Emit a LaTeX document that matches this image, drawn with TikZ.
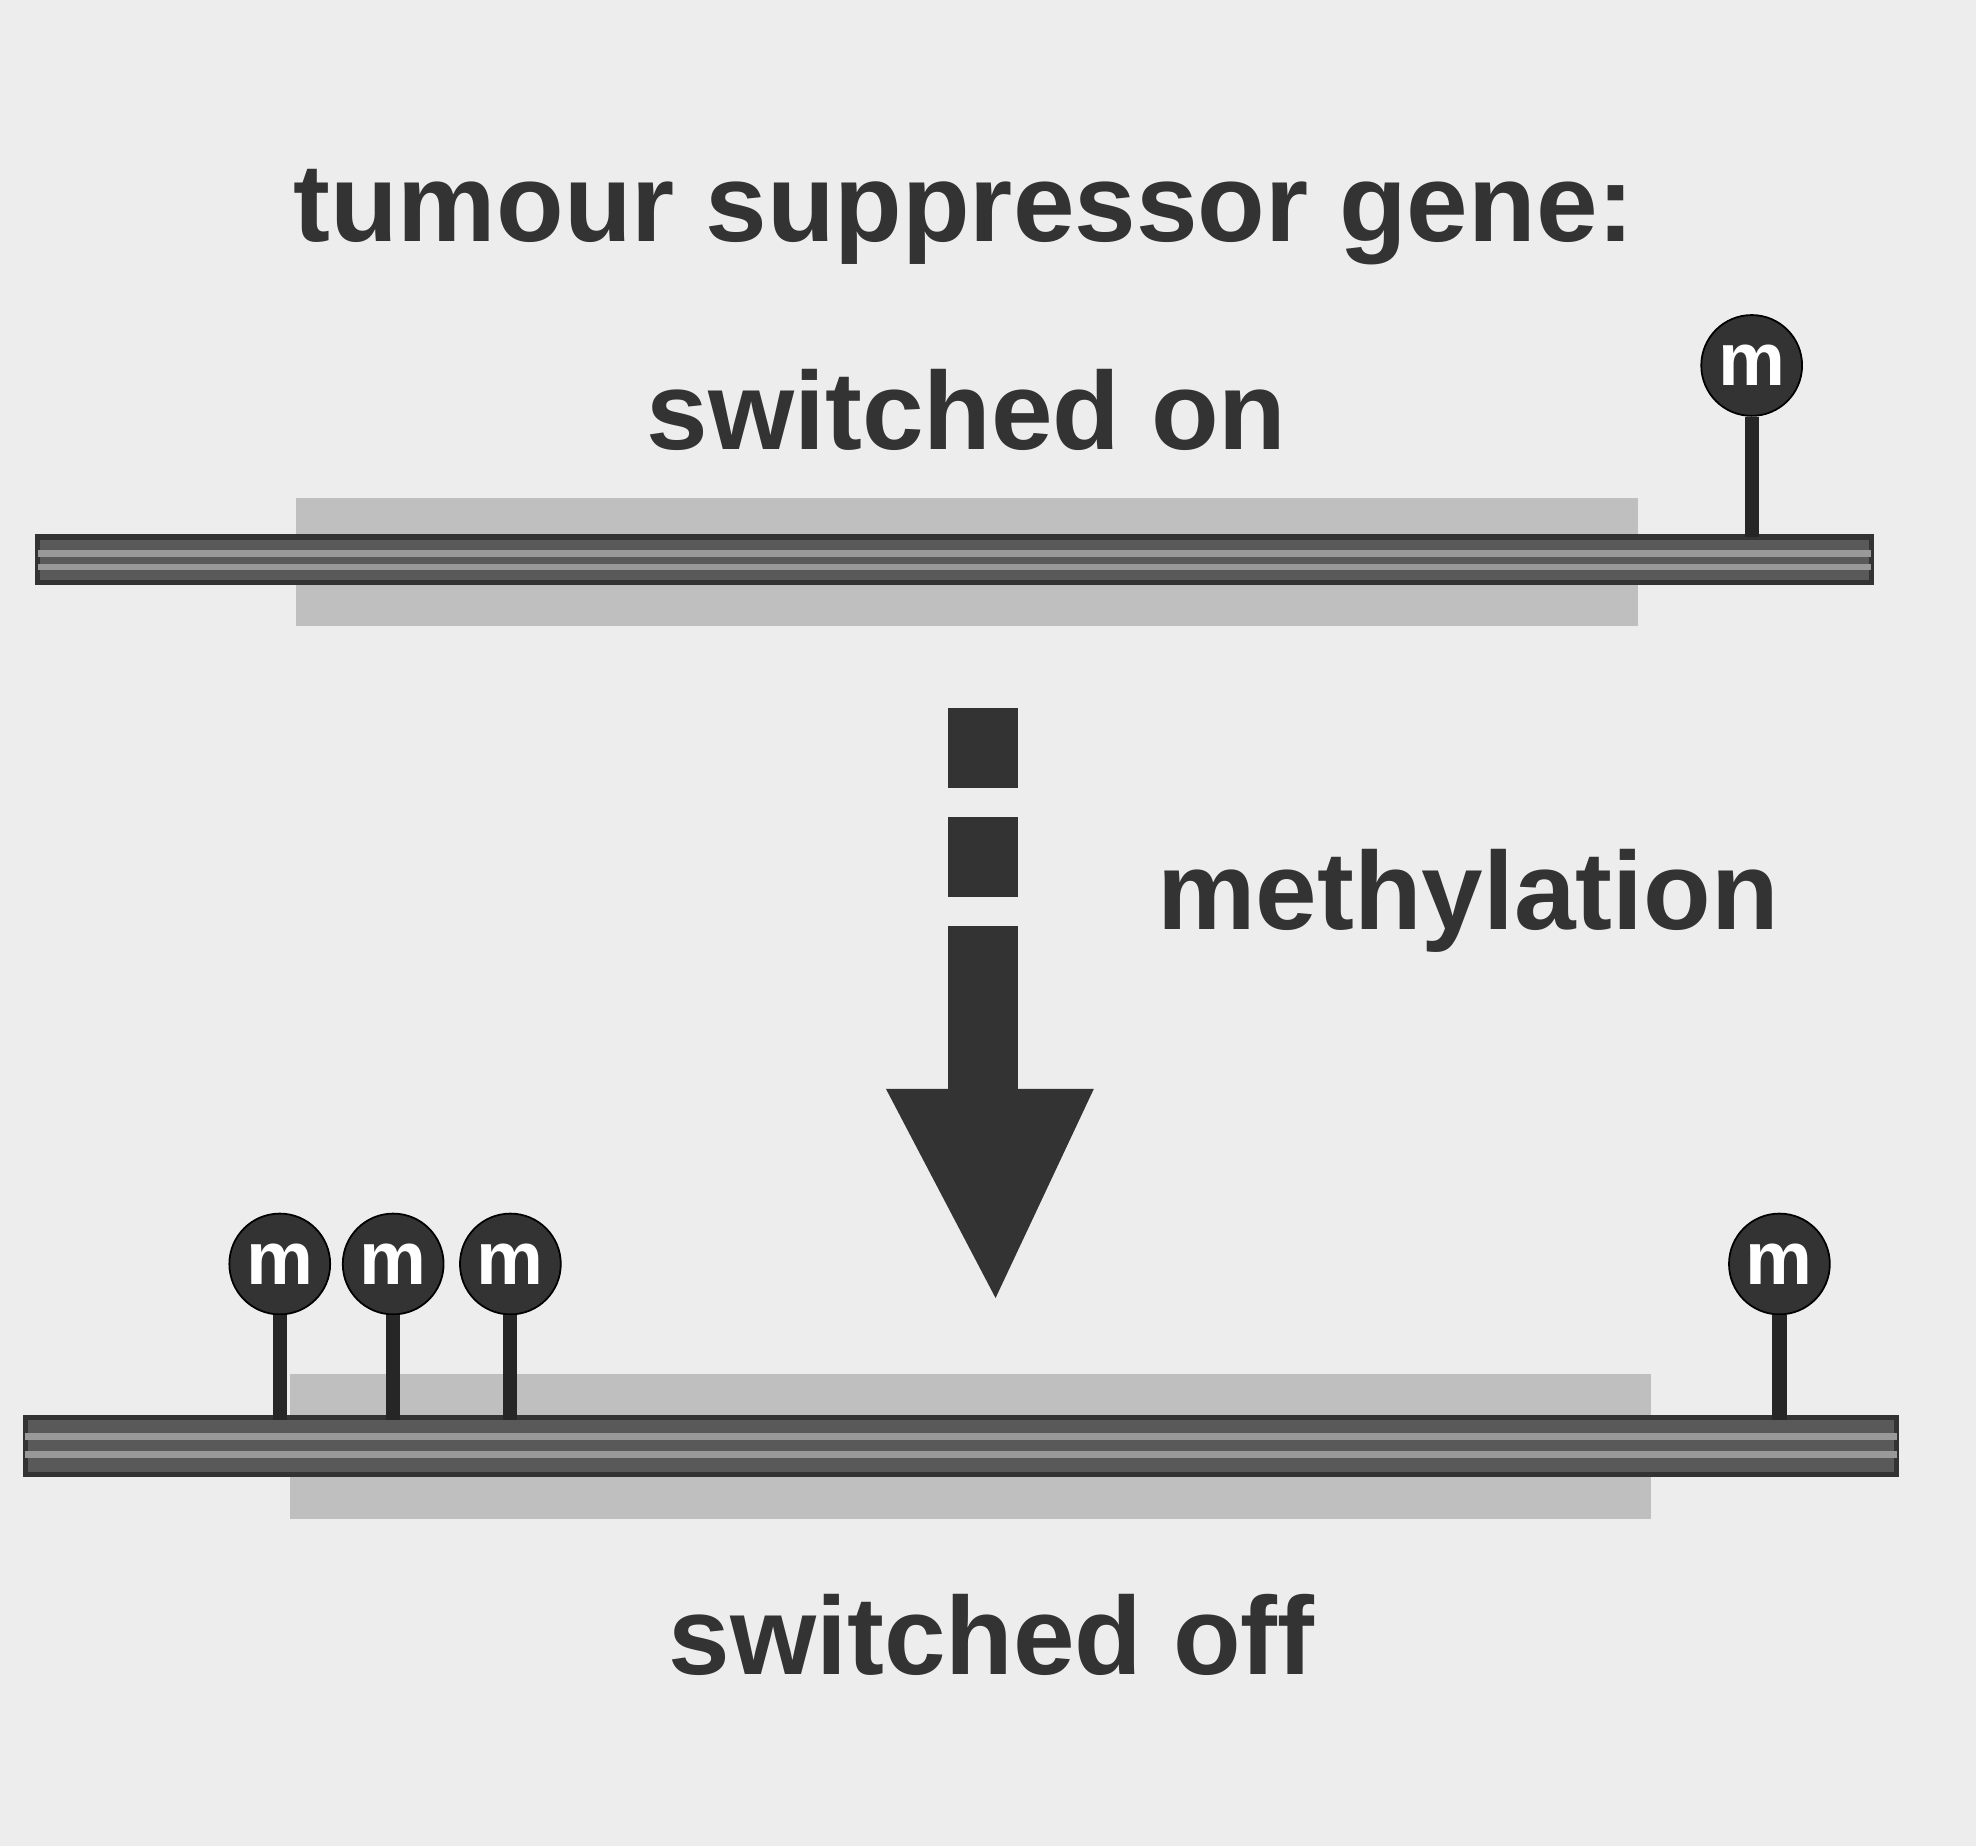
\documentclass[tikz,border=0pt]{standalone}
\usepackage{fontspec}
\setmainfont{Liberation Sans}
\begin{document}
\begin{tikzpicture}[x=0.1mm,y=-0.1mm,
  lbl/.style={font=\fontsize{25}{30}\selectfont\bfseries, text=black!80},
  shade/.style={fill=black!25, draw=none},
  bar/.style={fill=black!65, draw=black!80, line width=1.2pt},
  stem/.style={line width=3.2pt, black!85},
  meth/.style={circle, fill=black!80, draw=black, minimum size=8mm, inner sep=0pt, text=white, font=\fontsize{17}{17}\selectfont\bfseries},
  blk/.style={fill=black!80, draw=none}]
\fill[black!7] (0,0) rectangle (1568,1465);
\useasboundingbox (0,0) rectangle (1568,1465);
\node[lbl] (title) at (765,172) {tumour suppressor gene:};
\node[lbl] (on) at (767,325) {switched on};
% top DNA
\fill[shade] (235,395) rectangle (1300,497);
\fill[bar] (30,426) rectangle (1485,462);
\draw[black!40, line width=1.5pt] (30,439) -- (1485,439);
\draw[black!40, line width=1.5pt] (30,450) -- (1485,450);
\node[meth] (m0) at (1390,290) {m};
\coordinate (m0b) at (1390,426);
\draw[stem] (m0.south) -- (m0b);
% arrow
\fill[blk] (752,562) rectangle (808,625);
\fill[blk] (752,648) rectangle (808,712);
\fill[blk] (752,735) rectangle (808,866);
\fill[blk] (703,864) -- (868,864) -- (790,1030) -- cycle;
\node[lbl] (meth) at (1165,715) {methylation};
% bottom DNA
\fill[shade] (230,1090) rectangle (1310,1205);
\fill[bar] (20,1125) rectangle (1505,1170);
\draw[black!40, line width=1.5pt] (20,1140) -- (1505,1140);
\draw[black!40, line width=1.5pt] (20,1154) -- (1505,1154);
\foreach \n/\x in {a/222,b/312,c/405,d/1412}{
  \node[meth] (m\n) at (\x,1003) {m};
  \coordinate (s\n) at (\x,1127);
  \draw[stem] (m\n.south) -- (s\n);
}
\node[lbl] (off) at (787,1297) {switched off};
\end{tikzpicture}
\end{document}
